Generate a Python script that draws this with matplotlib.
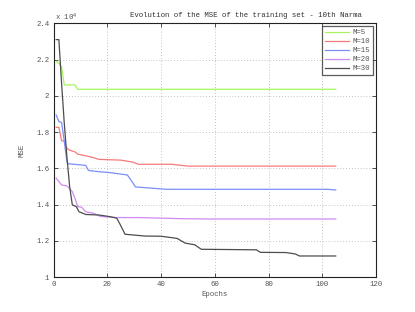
import matplotlib as mpl
mpl.use('Agg')
import matplotlib.pyplot as plt

mpl.rc('font', family='Liberation Mono', size=5.3)

# epochs / MSE (x 1e4)
ep_m5 = [1, 2, 3, 4, 8, 9, 105]
mse_m5 = [2.19, 2.18, 2.16, 2.06, 2.06, 2.036, 2.036]

ep_m10 = [1, 2, 3, 4, 5, 6, 8, 9, 13.5, 17, 25, 29.5, 31.5, 44, 50, 105]
mse_m10 = [1.826, 1.826, 1.752, 1.75, 1.71, 1.70, 1.69, 1.678, 1.664, 1.649, 1.645, 1.634, 1.622, 1.622, 1.612, 1.612]

ep_m15 = [1, 2, 3, 4, 5, 5.5, 12, 13, 17, 21, 27.5, 29.5, 30.5, 42, 102, 105]
mse_m15 = [1.894, 1.857, 1.853, 1.75, 1.636, 1.625, 1.616, 1.588, 1.581, 1.576, 1.563, 1.52, 1.497, 1.484, 1.484, 1.48]

ep_m20 = [1, 3, 5, 7, 8, 9, 10.5, 12, 15, 17.5, 23.5, 32, 47, 57, 105]
mse_m20 = [1.545, 1.508, 1.503, 1.471, 1.434, 1.388, 1.385, 1.36, 1.351, 1.334, 1.328, 1.328, 1.322, 1.32, 1.32]

ep_m30 = [1, 2, 3, 4, 5, 6, 7, 8.5, 9.5, 12, 17, 21, 23.5, 24.8, 26.6, 34, 40, 46, 49, 52.5, 55, 75.5, 77, 86.5, 90, 91.5, 105]
mse_m30 = [2.31, 2.31, 2.07, 1.85, 1.66, 1.50, 1.398, 1.388, 1.36, 1.345, 1.342, 1.333, 1.325, 1.29, 1.236, 1.226, 1.225, 1.213, 1.187, 1.178, 1.153, 1.15, 1.136, 1.135, 1.127, 1.116, 1.116]

series = [(ep_m5, mse_m5, '#a6f55f', 'M=5'),
          (ep_m10, mse_m10, '#f77a7a', 'M=10'),
          (ep_m15, mse_m15, '#7a8ff7', 'M=15'),
          (ep_m20, mse_m20, '#cf8af0', 'M=20'),
          (ep_m30, mse_m30, '#4d4d4d', 'M=30')]

fig = plt.figure(figsize=(4.15, 3.12), dpi=100)
ax = fig.add_axes([53.5/415, 1-277/312, (376-53.5)/415, (277-23.3)/312])

for x, y, c, lab in series:
    ax.plot(x, y, color=c, lw=0.9, label=lab)

ax.set_xlim(0, 120)
ax.set_ylim(1, 2.4)
ax.set_xticks([0, 20, 40, 60, 80, 100, 120])
ax.set_yticks([1, 1.2, 1.4, 1.6, 1.8, 2, 2.2, 2.4])
ax.set_yticklabels(['1', '1.2', '1.4', '1.6', '1.8', '2', '2.2', '2.4'])
ax.grid(True, ls=(0, (1, 2.5)), color='#b0b0b0', lw=0.6)
ax.tick_params(direction='in', top=True, right=True, length=3, width=0.6,
               colors='#333333', labelcolor='#555555', labelsize=5.3, pad=3)
for s in ax.spines.values():
    s.set_linewidth(0.8)
    s.set_color('#222222')

ax.set_xlabel('Epochs', color='#555555', labelpad=2)
ax.set_ylabel('MSE', color='#555555', labelpad=8)
fig.text(245.5/415, 1-15.7/312, 'Evolution of the MSE of the training set - 10th Narma',
         ha='center', va='center', color='#333333')
fig.text(55/415, 1-17/312, r'x 10$^4$', ha='left', va='center', color='#555555')

leg = ax.legend(loc='upper right', fontsize=5.3, frameon=True, fancybox=False,
                handlelength=3.2, borderaxespad=0.4, labelspacing=0.25,
                handletextpad=0.5, borderpad=0.4)
leg.get_frame().set_edgecolor('#333333')
leg.get_frame().set_linewidth(0.9)
for t in leg.get_texts():
    t.set_color('#555555')

plt.savefig('out.png', dpi=100)
plt.close()
